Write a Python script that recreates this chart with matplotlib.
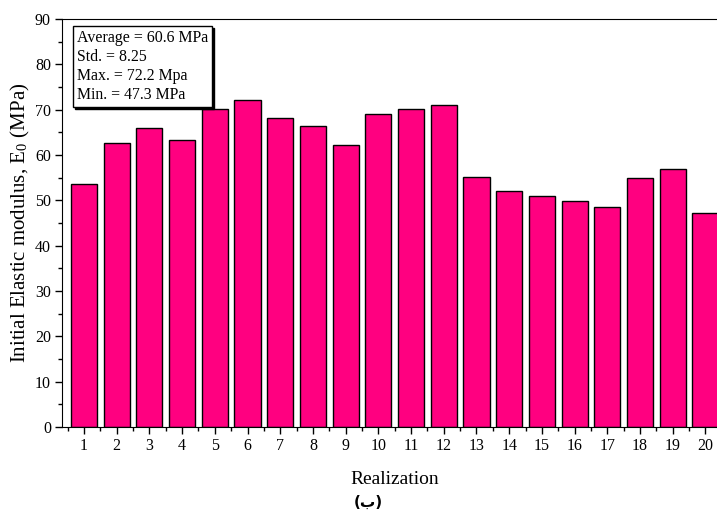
#!/usr/bin/env python3
"""Bar chart of initial elastic modulus per realization."""
import matplotlib
matplotlib.use("Agg")
import matplotlib.pyplot as plt
from matplotlib.lines import Line2D
from matplotlib.ticker import MultipleLocator

realization = list(range(1, 21))
e0_mpa = [53.7, 62.7, 66.0, 63.2, 70.2, 72.2, 68.2, 66.5, 62.3, 69.1,
          70.2, 71.0, 55.2, 52.0, 50.9, 49.8, 48.6, 54.9, 56.9, 47.3]
stats_lines = ["Average = 60.6 MPa", "Std. = 8.25", "Max. = 72.2 Mpa", "Min. = 47.3 MPa"]

plt.rcParams["font.family"] = "Liberation Serif"
plt.rcParams["mathtext.fontset"] = "stix"

fig = plt.figure(figsize=(7.17, 5.18), dpi=100)
ax = fig.add_axes([0.0865, 0.1757, 0.928, 0.7876])

ax.bar(realization, e0_mpa, width=0.8, color="#ff0080", edgecolor="black", linewidth=1.0)

ax.set_xlim(0.33, 20.67)
ax.set_ylim(0, 90)
ax.set_xticks(realization)
ax.set_xticks([x + 0.5 for x in range(0, 21)], minor=True)
ax.yaxis.set_major_locator(MultipleLocator(10))
ax.yaxis.set_minor_locator(MultipleLocator(5))
ax.tick_params(axis="both", which="major", direction="out", length=5, width=1, labelsize=11.5, pad=3)
ax.tick_params(axis="both", which="minor", direction="out", length=3, width=1)
ax.tick_params(axis="x", which="both", top=False)

ax.set_xlabel("Realization", fontsize=14, labelpad=12)
ax.set_ylabel(r"Initial Elastic modulus, E$_{\mathregular{0}}$ (MPa)", fontsize=15, labelpad=2)

handles = [Line2D([], [], linestyle="none") for _ in stats_lines]
leg = ax.legend(handles, stats_lines, loc="upper left", bbox_to_anchor=(0.016, 0.983),
                borderaxespad=0, handlelength=0, handletextpad=0, labelspacing=0.2,
                fontsize=11.4, frameon=True, fancybox=False, borderpad=0.25,
                shadow={"color": "black", "alpha": 1.0, "ox": 1.5, "oy": -1.5})
leg.get_frame().set_edgecolor("black")
leg.get_frame().set_linewidth(1.0)

fig.text(0.514, 0.031, "(ب)", ha="center", va="center", fontsize=11,
         fontweight="bold", family=["DejaVu Sans"])

fig.savefig("out.png", dpi=100)
